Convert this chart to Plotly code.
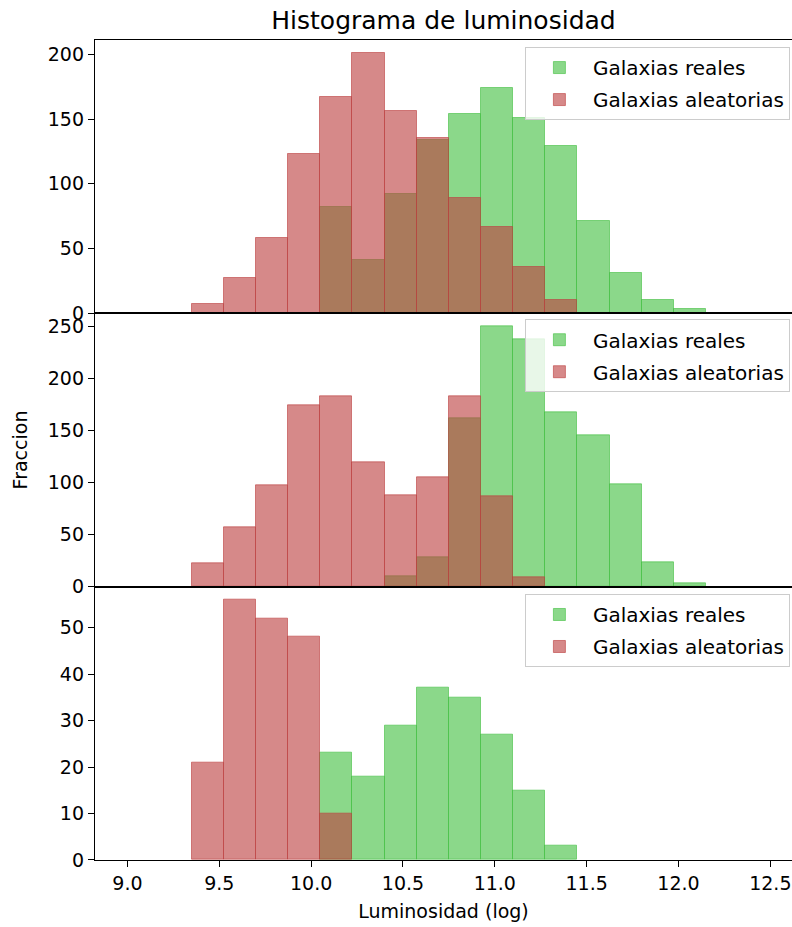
import plotly.graph_objects as go

# ---------------- data ----------------
bin_edges = [9.35, 9.525, 9.70, 9.875, 10.05, 10.225, 10.40, 10.575, 10.75,
             10.925, 11.10, 11.275, 11.45, 11.625, 11.80, 11.975, 12.15]

series_names = ["Galaxias reales", "Galaxias aleatorias"]

top_reales = [0, 0, 0, 0, 82, 41, 92, 134, 154, 174, 151, 129, 71, 31, 10, 3]
top_aleatorias = [7, 27, 58, 123, 167, 201, 156, 135, 89, 67, 36, 10, 0, 0, 0, 0]

mid_reales = [0, 0, 0, 0, 0, 0, 10, 28, 162, 250, 238, 167, 145, 98, 23, 3]
mid_aleatorias = [22, 57, 97, 174, 183, 119, 88, 105, 183, 87, 9, 0, 0, 0, 0, 0]

bot_reales = [0, 0, 0, 0, 23, 18, 29, 37, 35, 27, 15, 3, 0, 0, 0, 0]
bot_aleatorias = [21, 56, 52, 48, 10, 0, 0, 0, 0, 0, 0, 0, 0, 0, 0, 0]

ytick_vals = [[0, 50, 100, 150, 200],
              [0, 50, 100, 150, 200, 250],
              [0, 10, 20, 30, 40, 50]]
xtick_vals = [9.0, 9.5, 10.0, 10.5, 11.0, 11.5, 12.0, 12.5]
xtick_labels = ["9.0", "9.5", "10.0", "10.5", "11.0", "11.5", "12.0", "12.5"]

title_text = "Histograma de luminosidad"
xlabel_text = "Luminosidad (log)"
ylabel_text = "Fraccion"

# ---------------- styling ----------------
FONT = "DejaVu Sans"
GREEN_FILL = "rgba(68,192,66,0.62)"
GREEN_EDGE = "rgba(68,192,66,0.62)"
RED_FILL = "rgba(189,65,65,0.62)"
RED_EDGE = "rgba(189,65,65,0.62)"

panels = [(top_reales, top_aleatorias),
          (mid_reales, mid_aleatorias),
          (bot_reales, bot_aleatorias)]

centers = [(a + b) / 2 for a, b in zip(bin_edges[:-1], bin_edges[1:])]
widths = [b - a for a, b in zip(bin_edges[:-1], bin_edges[1:])]


def nz(vals):
    # empty bins draw nothing
    return [v if v != 0 else None for v in vals]


fig = go.Figure()
legend_ids = ["legend", "legend2", "legend3"]
for i, (reales, aleat) in enumerate(panels):
    ax = "" if i == 0 else str(i + 1)
    fig.add_trace(go.Bar(
        x=centers, y=nz(reales), width=widths, name=series_names[0],
        legendgroup="r%d" % i,
        marker=dict(color=GREEN_FILL, line=dict(color=GREEN_EDGE, width=1)),
        xaxis="x" + ax, yaxis="y" + ax, legend=legend_ids[i],
    ))
    fig.add_trace(go.Bar(
        x=centers, y=nz(aleat), width=widths, name=series_names[1],
        legendgroup="a%d" % i,
        marker=dict(color=RED_FILL, line=dict(color=RED_EDGE, width=1)),
        xaxis="x" + ax, yaxis="y" + ax, legend=legend_ids[i],
    ))

xrange = [8.8235, 12.618]
domains = [[2 / 3, 1.0], [1 / 3, 2 / 3], [0.0, 1 / 3]]

axis_common = dict(showline=True, linecolor="black", linewidth=1.3,
                   showgrid=False, zeroline=False, ticks="outside",
                   ticklen=6, tickwidth=1.3, tickcolor="black", automargin=False,
                   tickfont=dict(family=FONT, size=19, color="black"))

layout = dict(
    width=792, height=927,
    margin=dict(l=95, r=0, t=40, b=67, autoexpand=False),
    paper_bgcolor="white", plot_bgcolor="white",
    barmode="overlay", bargap=0,
    font=dict(family=FONT, size=19, color="black"),
    title=dict(text=title_text, x=0.5, xref="paper", xanchor="center",
               y=0.978, yanchor="middle", font=dict(family=FONT, size=25, color="black")),
)

for i in range(3):
    ax = "" if i == 0 else str(i + 1)
    ymax = max(max(panels[i][0]), max(panels[i][1])) * 1.05
    xa = dict(axis_common, range=xrange, anchor="y" + ax, mirror=True,
              domain=[0, 1], tickvals=xtick_vals, ticktext=xtick_labels)
    if i < 2:
        xa.update(showticklabels=False, ticks="", matches="x3")
    else:
        xa.update(title=dict(text=xlabel_text, standoff=11,
                             font=dict(family=FONT, size=19, color="black")))
    ya = dict(axis_common, range=[0, ymax], anchor="x" + ax,
              domain=domains[i], tickvals=ytick_vals[i])
    if i == 1:
        ya.update(title=dict(text=ylabel_text, standoff=15,
                             font=dict(family=FONT, size=19, color="black")))
    layout["xaxis" + ax] = xa
    layout["yaxis" + ax] = ya

legend_tops = [0.9914, 0.6595, 0.3244]
for i, lid in enumerate(legend_ids):
    layout[lid] = dict(x=0.997, xanchor="right", y=legend_tops[i], yanchor="top",
                       bgcolor="rgba(255,255,255,0.8)", bordercolor="#cccccc",
                       borderwidth=1, font=dict(family=FONT, size=20, color="black"),
                       traceorder="grouped", tracegroupgap=3, itemwidth=57)

fig.update_layout(**layout)
fig.write_html("out.html", config={"displayModeBar": False},
               post_script="document.body.style.margin='0';document.body.style.overflow='hidden';")
